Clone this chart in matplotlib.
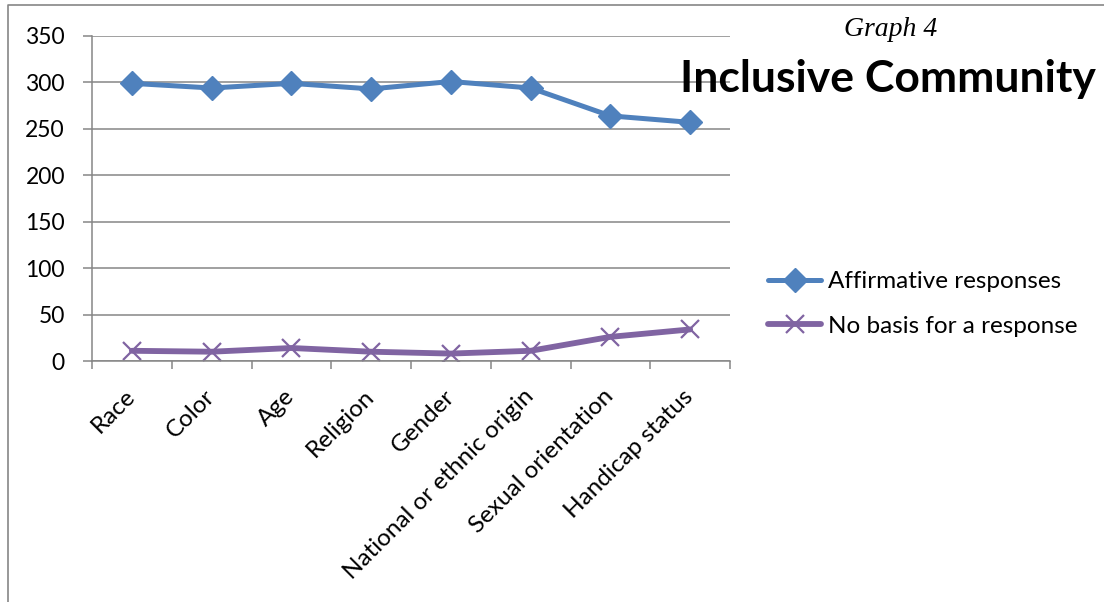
import matplotlib.pyplot as plt
from matplotlib.lines import Line2D

# categories and the two series
categories = ['Race', 'Color', 'Age', 'Religion', 'Gender',
              'National or ethnic origin', 'Sexual orientation', 'Handicap status']
affirmative = [299, 294, 299, 293, 301, 294, 264, 257]
no_basis = [11, 10, 14, 10, 8, 11, 26, 34]
yticks = [0, 50, 100, 150, 200, 250, 300, 350]

plt.rcParams['font.family'] = ['Lato', 'DejaVu Sans']

fig = plt.figure(figsize=(11.04, 6.02), dpi=100)
ax = fig.add_axes([92 / 1104, 1 - 361 / 602, (730 - 92) / 1104, (361 - 36) / 602])

x = range(len(categories))
ax.plot(x, affirmative, color='#4F81BD', lw=3.6, marker='D', ms=12,
        label='Affirmative responses', solid_capstyle='round')
ax.plot(x, no_basis, color='#8064A2', lw=4.2, marker='x', ms=13, mew=1.6,
        label='No basis for a response', solid_capstyle='round')

ax.set_xlim(-0.5, len(categories) - 0.5)
ax.set_ylim(0, 350)
ax.set_yticks(yticks)
ax.yaxis.grid(True, color='#868686', lw=1.1)
ax.set_axisbelow(True)
for s in ['top', 'right']:
    ax.spines[s].set_visible(False)
for s in ['left', 'bottom']:
    ax.spines[s].set_color('#868686')
    ax.spines[s].set_linewidth(1.1)

ax.tick_params(axis='y', length=6.5, width=1.1, color='#868686', pad=13, labelsize=16.5)
ax.set_xticks(list(x))
ax.set_xticklabels(categories, rotation=45, ha='right', va='center',
                   rotation_mode='anchor', fontsize=17.5)
ax.tick_params(axis='x', which='major', length=0, pad=23)
ax.set_xticks([i - 0.5 for i in range(len(categories) + 1)], minor=True)
ax.tick_params(axis='x', which='minor', length=6, width=1.1, color='#868686')

ax.legend(loc='center left', bbox_to_anchor=(768 / 1104, 1 - 304 / 602),
          bbox_transform=fig.transFigure, frameon=False, fontsize=17.5,
          handlelength=2.2, handletextpad=0.25, labelspacing=0.95, borderpad=0,
          borderaxespad=0)

fig.text(891 / 1104, 1 - 29 / 602, 'Graph 4', ha='center', va='center',
         family='Liberation Serif', style='italic', fontsize=20)
fig.text(888 / 1104, 1 - 79 / 602, 'Inclusive Community', ha='center', va='center',
         fontweight='bold', fontsize=32)

# outer chart border (top and left edges visible)
fig.add_artist(Line2D([8 / 1104, 8 / 1104, 1.0], [0.0, 1 - 5 / 602, 1 - 5 / 602],
                      transform=fig.transFigure, color='#868686', lw=1.2))

fig.savefig('out.png', dpi=100)
